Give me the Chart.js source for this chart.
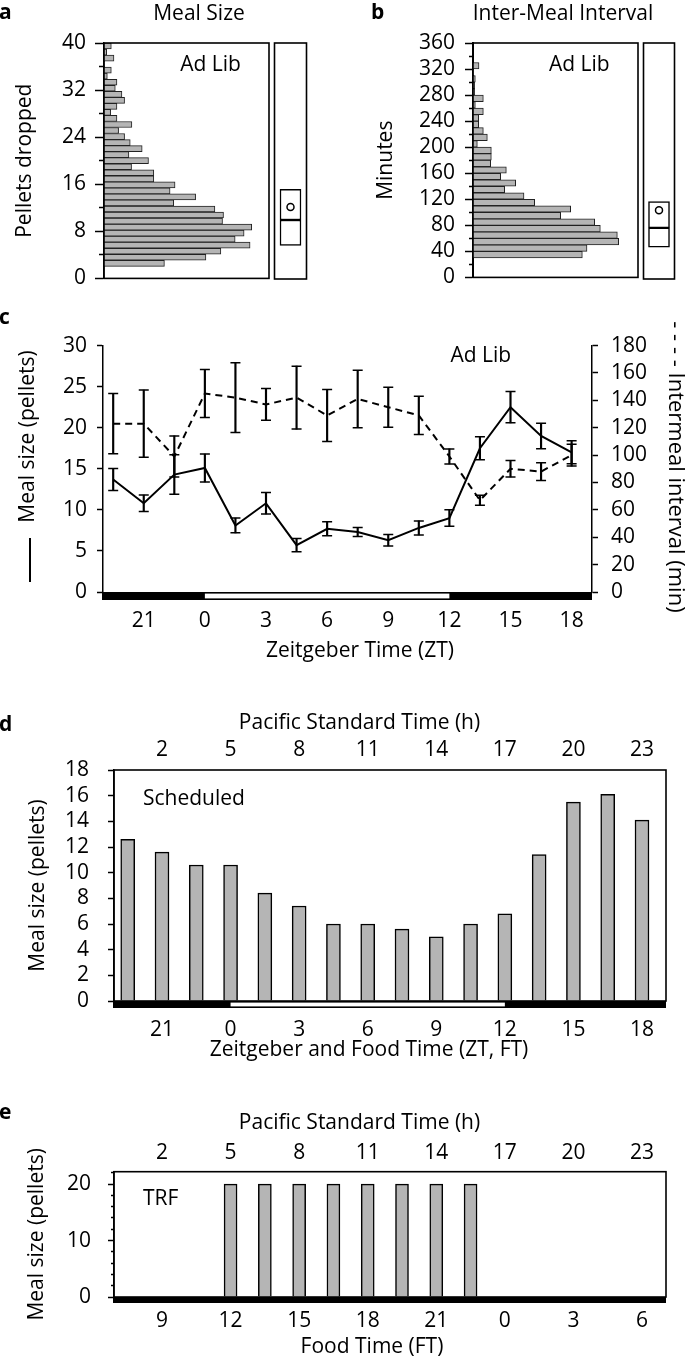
<!DOCTYPE html>
<html lang="en">
  <head>
    <meta charset="UTF-8" />
    <title>Meal size and inter-meal interval</title>
    <script src="https://cdn.jsdelivr.net/npm/chart.js"></script>
    <style>
      body {
        margin: 0;
        background: #fff;
        font-family: "Open Sans", sans-serif;
        color: #000;
      }
      #page {
        position: relative;
        width: 685px;
        height: 1360px;
        overflow: hidden;
      }
      canvas {
        position: absolute;
      }
      .t {
        position: absolute;
        font-size: 21px;
        line-height: 21px;
        white-space: nowrap;
      }
      .c {
        width: 400px;
        text-align: center;
      }
      .lt {
        font-weight: 700;
      }
    </style>
  </head>
  <body>
    <div id="page">
      <canvas id="sizeHist" width="270" height="300" style="left: 0; top: 0"></canvas>
      <canvas id="sizeBox" width="43" height="300" style="left: 269px; top: 0"></canvas>
      <canvas id="gapHist" width="299" height="300" style="left: 340px; top: 0"></canvas>
      <canvas id="gapBox" width="42" height="300" style="left: 638px; top: 0"></canvas>
      <canvas id="adLib" width="685" height="340" style="left: 0; top: 320px"></canvas>
      <canvas id="scheduled" width="685" height="370" style="left: 0; top: 690px"></canvas>
      <canvas id="trf" width="685" height="260" style="left: 0; top: 1080px"></canvas>

      <!-- panel letters and titles -->
      <div class="t lt" style="left: -1px; top: 1.4px">a</div>
      <div class="t c" style="left: -1px; top: 1.9px">Meal Size</div>
      <div class="t lt" style="left: 371px; top: 1.4px">b</div>
      <div class="t c" style="left: 363px; top: 1.9px">Inter-Meal Interval</div>
      <div class="t c" style="left: 10.5px; top: 53.4px">Ad Lib</div>
      <div class="t c" style="left: 379.3px; top: 53.4px">Ad Lib</div>

      <div class="t lt" style="left: -1px; top: 306.4px">c</div>
      <div class="t c" style="left: 280.8px; top: 344.4px">Ad Lib</div>
      <div class="t" style="left: -104px; top: 425.5px; width: 260px; text-align: center; transform: rotate(-90deg)">Meal size (pellets)</div>
      <div style="position: absolute; left: 28.5px; top: 538px; width: 2px; height: 44px; background: #000"></div>
      <div class="t" style="font-size: 22px; line-height: 22px; left: 518px; top: 455.5px; width: 320px; text-align: center; transform: rotate(90deg)">- - - - Intermeal interval (min)</div>
      <div class="t c" style="left: 160px; top: 639.4px">Zeitgeber Time (ZT)</div>

      <div class="t lt" style="left: -1px; top: 713.4px">d</div>
      <div class="t c" style="left: 159.5px; top: 711.4px">Pacific Standard Time (h)</div>
      <div class="t" style="left: 143px; top: 787.4px">Scheduled</div>
      <div class="t c" style="left: 169px; top: 1038.4px">Zeitgeber and Food Time (ZT, FT)</div>

      <div class="t lt" style="left: -1px; top: 1101.4px">e</div>
      <div class="t c" style="left: 159.5px; top: 1111.4px">Pacific Standard Time (h)</div>
      <div class="t" style="left: 143px; top: 1187.4px">TRF</div>
      <div class="t c" style="left: 172px; top: 1335.4px">Food Time (FT)</div>
    </div>

    <script>
      // a: meal size histogram (1-pellet bins, bottom to top), ad lib
      const sizeBins = ["0", "1", "2", "3", "4", "5", "6", "7", "8", "9", "10", "11", "12", "13", "14", "15", "16", "17", "18", "19",
        "20", "21", "22", "23", "24", "25", "26", "27", "28", "29", "30", "31", "32", "33", "34", "35", "36", "37", "38"];
      const sizeCounts = [0, 0, 182, 307, 352, 440, 395, 422, 445, 357, 360, 334, 210, 276, 199, 214, 150, 150, 83, 134,
        75, 115, 79, 62, 44, 84, 39, 20, 39, 62, 54, 34, 39, 10, 22, 2, 30, 8, 22];
      const sizeBox = { q1: 5.7, median: 10, q3: 15.2, mean: 12.2 };
      const sizeTicks = [0, 4, 8, 12, 16, 20, 24, 28, 32, 36, 40];

      // b: inter-meal interval histogram (10-min bins, centres in minutes)
      const gapBins = [35, 45, 55, 65, 75, 85, 95, 105, 115, 125, 135, 145, 155, 165, 175, 185, 195, 205, 215, 225,
        235, 245, 255, 265, 275, 285, 295, 305, 315, 325];
      const gapCounts = [328, 342, 437, 433, 382, 365, 263, 293, 185, 153, 95, 128, 83, 100, 53, 55, 55, 13, 43, 31,
        17, 17, 31, 7, 31, 5, 5, 7, 2, 18];
      const gapBox = { q1: 48.5, median: 78, q3: 118, mean: 105 };
      const gapTicks = [0, 20, 40, 60, 80, 100, 120, 140, 160, 180, 200, 220, 240, 260, 280, 300, 320, 340, 360];

      // c: ad lib, mean +/- sem by zeitgeber time
      const ztAdLib = [19.5, 21, 22.5, 0, 1.5, 3, 4.5, 6, 7.5, 9, 10.5, 12, 13.5, 15, 16.5, 18];
      const mealAdLib = [13.7, 10.8, 14.3, 15.1, 8.1, 10.8, 5.7, 7.7, 7.3, 6.3, 7.8, 9.0, 17.5, 22.5, 19.0, 17.0];
      const mealAdLibErr = [1.35, 1.0, 2.4, 1.7, 0.9, 1.3, 0.8, 0.85, 0.55, 0.7, 0.85, 1.0, 1.4, 1.9, 1.55, 1.4];
      const gapAdLib = [123, 123, 99, 145, 142, 137, 142, 129, 141, 135, 129, 99, 67, 90, 88, 100];
      const gapAdLibErr = [22, 24.5, 15, 17.5, 25.5, 11.6, 23, 19, 21, 14.6, 14, 5.5, 3.6, 6, 6.5, 8];
      const mealTicksC = [0, 5, 10, 15, 20, 25, 30];
      const gapTicksC = [0, 20, 40, 60, 80, 100, 120, 140, 160, 180];

      // d: scheduled feeding
      const ztScheduled = [19.5, 21, 22.5, 0, 1.5, 3, 4.5, 6, 7.5, 9, 10.5, 12, 13.5, 15, 16.5, 18];
      const mealScheduled = [12.6, 11.6, 10.6, 10.6, 8.4, 7.4, 6.0, 6.0, 5.6, 5.0, 6.0, 6.8, 11.4, 15.5, 16.1, 14.1];
      const mealTicksD = [0, 2, 4, 6, 8, 10, 12, 14, 16, 18];

      // e: time-restricted feeding
      const ftTrf = [12, 13.5, 15, 16.5, 18, 19.5, 21, 22.5];
      const mealTrf = [20, 20, 20, 20, 20, 20, 20, 20];
      const mealTicksE = [0, 2, 4, 6, 8, 10, 12, 14, 16, 18, 20, 22];

      // shared time axes
      const ztTickLabels = [21, 0, 3, 6, 9, 12, 15, 18];
      const ftTickLabels = [9, 12, 15, 18, 21, 0, 3, 6];
      const pstTickLabels = [2, 5, 8, 11, 14, 17, 20, 23];
      const lightsOn = 0;
      const lightsOff = 12;

      const INK = "#000";
      const BAR_FILL = "#b5b5b5";

      Chart.defaults.font.family = "'Open Sans', sans-serif";
      Chart.defaults.font.size = 21;
      Chart.defaults.color = INK;
      Chart.defaults.animation = false;
      Chart.defaults.responsive = false;
      Chart.defaults.plugins.legend.display = false;
      Chart.defaults.plugins.tooltip.enabled = false;

      // hours run on from the window start, so 0 after 23 becomes 24
      const unwrap = (h, start) => (h < start ? h + 24 : h);

      const fixWidth = (w) => (scale) => { scale.width = w; };
      const fixHeight = (h) => (scale) => { scale.height = h; };
      const useTicks = (values) => (scale) => { scale.ticks = values.map((v) => ({ value: v })); };
      // short tick for unlabelled values (tick is drawn from its outer end to the axis)
      const minorDash = (every, gap) => (ctx) =>
        ctx.tick && ctx.tick.value % every !== 0 ? [0, gap, 60, 0] : [];

      function valueAxis(o) {
        return {
          type: "linear",
          position: o.position || "left",
          min: o.min,
          max: o.max,
          offset: false,
          afterBuildTicks: useTicks(o.ticks),
          afterFit: fixWidth(o.width),
          ticks: { autoSkip: false, padding: o.pad, callback: o.label || ((v) => v) },
          grid: {
            drawOnChartArea: false,
            offset: false,
            tickLength: o.tick,
            tickWidth: 1.5,
            tickColor: INK,
            tickBorderDash: o.dash || [],
          },
          border: { color: INK, width: o.border || 1.5 },
          title: o.title
            ? { display: true, text: o.title, padding: { top: o.titlePad, bottom: 0 } }
            : { display: false },
        };
      }

      function timeAxis(o) {
        return {
          type: "linear",
          position: o.position,
          min: o.min,
          max: o.max,
          offset: false,
          afterBuildTicks: useTicks(o.ticks),
          afterFit: fixHeight(o.height),
          ticks: { autoSkip: false, maxRotation: 0, minRotation: 0, padding: o.pad, callback: (v, i) => o.labels[i] },
          grid: { display: false, drawTicks: false, offset: false },
          border: { display: false },
        };
      }

      const framePlugin = {
        id: "frame",
        afterDatasetsDraw(chart) {
          const { ctx, chartArea: a } = chart;
          ctx.save();
          ctx.strokeStyle = INK;
          ctx.lineWidth = 1.6;
          ctx.strokeRect(a.left, a.top, a.right - a.left, a.bottom - a.top);
          ctx.restore();
        },
      };

      // dark/light bar under the time axis
      const lightBarPlugin = {
        id: "lightBar",
        afterDraw(chart, args, opts) {
          const { ctx, chartArea: a } = chart;
          const x = chart.scales.x;
          ctx.save();
          ctx.fillStyle = INK;
          ctx.fillRect(a.left - 1, a.bottom, a.right - a.left + 1, opts.height);
          if (opts.on != null) {
            const x0 = x.getPixelForValue(opts.on);
            const x1 = x.getPixelForValue(opts.off);
            ctx.fillStyle = "#fff";
            ctx.fillRect(x0, a.bottom + 1.6, x1 - x0, opts.height - 3.2);
          }
          ctx.restore();
        },
      };

      // ---------- a ----------
      new Chart(document.getElementById("sizeHist"), {
        type: "bar",
        data: {
          labels: sizeBins,
          datasets: [
            {
              data: sizeCounts,
              yAxisID: "yc",
              backgroundColor: BAR_FILL,
              borderColor: "#222",
              borderWidth: 1,
              barPercentage: 1,
              categoryPercentage: 1,
            },
          ],
        },
        options: {
          indexAxis: "y",
          layout: { padding: { top: 43, bottom: 21, left: 0, right: 1 } },
          scales: {
            x: { display: false, min: 0, max: 497 },
            yc: { type: "category", display: false, reverse: true },
            y: valueAxis({
              min: 0, max: 40, ticks: sizeTicks, width: 104, pad: 9, tick: 9,
              label: (v) => (v % 8 === 0 ? v : ""),
              dash: minorDash(8, 4),
              title: "Pellets dropped", titlePad: 12.5,
            }),
          },
        },
        plugins: [framePlugin],
      });

      function boxChart(id, box, max) {
        return new Chart(document.getElementById(id), {
          type: "bar",
          data: {
            labels: ["Ad Lib"],
            datasets: [
              {
                type: "line",
                data: [box.mean],
                showLine: false,
                pointRadius: 3.5,
                pointBackgroundColor: "#fff",
                pointBorderColor: INK,
                pointBorderWidth: 1.5,
              },
              { data: [[box.q1, box.median]], backgroundColor: "#fff", borderColor: INK, borderWidth: 1.5, borderSkipped: false, barThickness: 21, grouped: false },
              { data: [[box.median, box.q3]], backgroundColor: "#fff", borderColor: INK, borderWidth: 1.5, borderSkipped: false, barThickness: 21, grouped: false },
            ],
          },
          options: {
            layout: { padding: { top: 43, bottom: 21, left: 0, right: 1 } },
            scales: {
              x: { display: false },
              y: { display: false, min: 0, max: max },
            },
          },
          plugins: [framePlugin],
        });
      }
      boxChart("sizeBox", sizeBox, 40);

      // ---------- b ----------
      new Chart(document.getElementById("gapHist"), {
        type: "bar",
        data: {
          datasets: [
            {
              data: gapBins.map((m, i) => ({ y: m, x: gapCounts[i] })),
              backgroundColor: BAR_FILL,
              borderColor: "#222",
              borderWidth: 1,
              barPercentage: 1,
              categoryPercentage: 1,
            },
          ],
        },
        options: {
          indexAxis: "y",
          layout: { padding: { top: 43, bottom: 21, left: 0, right: 1 } },
          scales: {
            x: { display: false, min: 0, max: 495 },
            y: valueAxis({
              min: 0, max: 360, ticks: gapTicks, width: 133, pad: 10, tick: 8, border: 2,
              label: (v) => (v % 40 === 0 ? v : ""),
              dash: minorDash(40, 4),
              title: "Minutes", titlePad: 33.5,
            }),
          },
        },
        plugins: [framePlugin],
      });
      boxChart("gapBox", gapBox, 360);

      // ---------- c ----------
      const tC = ztAdLib.map((h) => unwrap(h, 19));
      const pts = (vals) => tC.map((t, i) => ({ x: t, y: vals[i] }));
      const lo = (vals, err) => tC.map((t, i) => ({ x: t, y: vals[i] - err[i] }));
      const hi = (vals, err) => tC.map((t, i) => ({ x: t, y: vals[i] + err[i] }));
      const span = (vals, err) => tC.map((t, i) => ({ x: t, y: [vals[i] - err[i], vals[i] + err[i]] }));
      const capStyle = { type: "line", showLine: false, pointStyle: "line", pointRadius: 5, pointBorderWidth: 1.5, pointBorderColor: INK };

      new Chart(document.getElementById("adLib"), {
        type: "line",
        data: {
          datasets: [
            { data: pts(mealAdLib), yAxisID: "y", borderColor: INK, borderWidth: 2, pointRadius: 0, tension: 0 },
            { data: pts(gapAdLib), yAxisID: "y2", borderColor: INK, borderWidth: 2, borderDash: [7, 5], pointRadius: 0, tension: 0 },
            { type: "bar", data: span(mealAdLib, mealAdLibErr), yAxisID: "y", backgroundColor: INK, barThickness: 1.5, grouped: false },
            { type: "bar", data: span(gapAdLib, gapAdLibErr), yAxisID: "y2", backgroundColor: INK, barThickness: 1.5, grouped: false },
            { ...capStyle, data: lo(mealAdLib, mealAdLibErr), yAxisID: "y" },
            { ...capStyle, data: hi(mealAdLib, mealAdLibErr), yAxisID: "y" },
            { ...capStyle, data: lo(gapAdLib, gapAdLibErr), yAxisID: "y2" },
            { ...capStyle, data: hi(gapAdLib, gapAdLibErr), yAxisID: "y2" },
          ],
        },
        options: {
          layout: { padding: { top: 21, bottom: 0, left: 0, right: 0 } },
          scales: {
            x: timeAxis({
              position: "bottom", min: 19, max: 43, height: 68, pad: 16,
              ticks: ztTickLabels.map((h) => unwrap(h, 19)), labels: ztTickLabels,
            }),
            y: valueAxis({ min: 0, max: 30, ticks: mealTicksC, width: 103, pad: 10, tick: 6 }),
            y2: valueAxis({ position: "right", min: 0, max: 180, ticks: gapTicksC, width: 93, pad: 13, tick: 6 }),
          },
          plugins: { lightBar: { height: 8, on: unwrap(lightsOn, 19), off: unwrap(lightsOff, 19) } },
        },
        plugins: [lightBarPlugin],
      });

      // ---------- d ----------
      new Chart(document.getElementById("scheduled"), {
        type: "bar",
        data: {
          datasets: [
            {
              data: ztScheduled.map((h, i) => ({ x: unwrap(h, 19), y: mealScheduled[i] })),
              backgroundColor: BAR_FILL,
              borderColor: INK,
              borderWidth: 1.5,
              barThickness: 14,
            },
          ],
        },
        options: {
          layout: { padding: { top: 0, bottom: 0, left: 0, right: 19 } },
          scales: {
            x: timeAxis({
              position: "bottom", min: 18.9, max: 43.05, height: 59, pad: 16,
              ticks: ztTickLabels.map((h) => unwrap(h, 19)), labels: ztTickLabels,
            }),
            x2: timeAxis({
              position: "top", min: 18.9, max: 43.05, height: 80, pad: 7,
              ticks: ztTickLabels.map((h) => unwrap(h, 19)), labels: pstTickLabels,
            }),
            y: valueAxis({
              min: 0, max: 18, ticks: mealTicksD, width: 114, pad: 19, tick: 6,
              title: "Meal size (pellets)", titlePad: 25.5,
            }),
          },
          plugins: { lightBar: { height: 7, on: unwrap(lightsOn, 19), off: unwrap(lightsOff, 19) } },
        },
        plugins: [framePlugin, lightBarPlugin],
      });

      // ---------- e ----------
      new Chart(document.getElementById("trf"), {
        type: "bar",
        data: {
          datasets: [
            {
              data: ftTrf.map((h, i) => ({ x: unwrap(h, 7), y: mealTrf[i] })),
              backgroundColor: BAR_FILL,
              borderColor: INK,
              borderWidth: 1.5,
              barThickness: 13,
            },
          ],
        },
        options: {
          layout: { padding: { top: 0, bottom: 0, left: 0, right: 19 } },
          scales: {
            x: timeAxis({
              position: "bottom", min: 6.9, max: 31.05, height: 43, pad: 11,
              ticks: ftTickLabels.map((h) => unwrap(h, 7)), labels: ftTickLabels,
            }),
            x2: timeAxis({
              position: "top", min: 6.9, max: 31.05, height: 91.7, pad: 6,
              ticks: ftTickLabels.map((h) => unwrap(h, 7)), labels: pstTickLabels,
            }),
            y: valueAxis({
              min: 0, max: 22.2, ticks: mealTicksE, width: 114, pad: 17, tick: 6,
              label: (v) => (v % 10 === 0 ? v : ""),
              dash: minorDash(10, 3),
              title: "Meal size (pellets)", titlePad: 24.5,
            }),
          },
          plugins: { lightBar: { height: 6 } },
        },
        plugins: [framePlugin, lightBarPlugin],
      });
    </script>
  </body>
</html>
